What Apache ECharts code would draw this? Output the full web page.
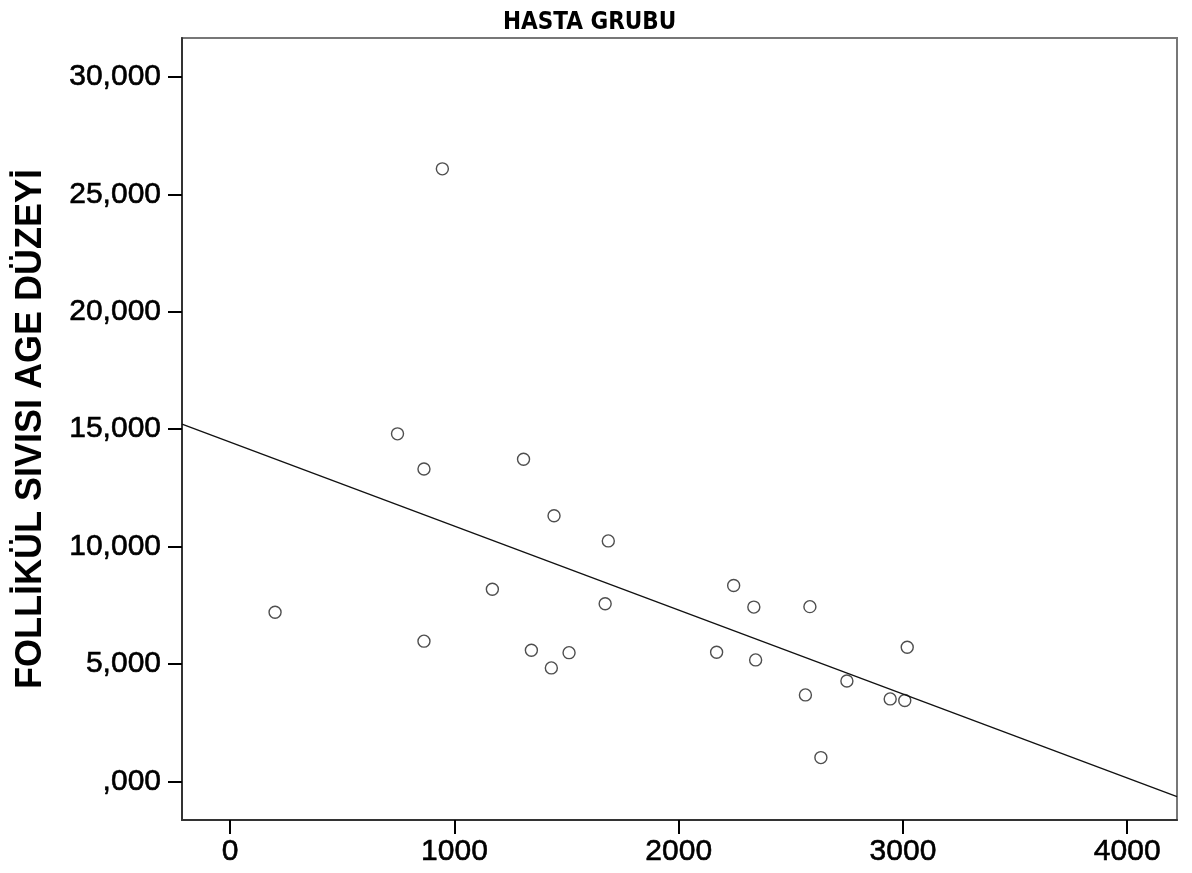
<!DOCTYPE html>
<html lang="tr">
<head>
    <meta charset="UTF-8">
    <title>HASTA GRUBU</title>
    <style>
        html, body { margin: 0; padding: 0; background: #fff; }
        #chart { width: 1192px; height: 873px; }
    </style>
</head>
<body>
<div id="chart"></div>
<script src="https://cdn.jsdelivr.net/npm/echarts@6/dist/echarts.min.js"></script>
<script>
    // x values of the points
    var pointX = [946, 746, 864, 1308, 1444, 1169, 200, 864, 1343, 1432, 1511, 1686,
                  1672, 2245, 2335, 2585, 2169, 2343, 3019, 2750, 2565, 2943, 3008, 2634];
    // AGE levels of the points
    var pointY = [26.09, 14.80, 13.30, 13.72, 11.31, 8.18, 7.20, 5.97, 5.58, 4.83, 5.48, 10.24,
                  7.56, 8.34, 7.42, 7.44, 5.50, 5.17, 5.71, 4.27, 3.68, 3.51, 3.44, 1.01];
    // fit line, where it meets the frame
    var fitX = [-215, 4222];
    var fitY = [15.213, -0.656];

    var xTicks = [0, 1000, 2000, 3000, 4000];
    var yTicks = [0, 5, 10, 15, 20, 25, 30];

    var scatterData = pointX.map(function (x, i) { return [x, pointY[i]]; });
    var fitData = fitX.map(function (x, i) { return [x, fitY[i]]; });

    // turkish decimal comma, SPSS drops the leading zero
    function trNum(v) {
        var s = v.toFixed(3).replace('.', ',');
        if (s.indexOf('0,') === 0) s = s.slice(1);
        return s;
    }

    var myChart = echarts.init(document.getElementById('chart'));

    var option = {
        backgroundColor: '#fff',
        animation: false,
        title: {
            text: 'HASTA GRUBU',
            left: 498,
            top: 6,
            textStyle: {
                fontFamily: 'DejaVu Sans Condensed',
                fontWeight: 'bold',
                fontSize: 24,
                color: '#000'
            }
        },
        grid: {
            left: 182,
            right: 15,
            top: 38,
            bottom: 53,
            show: true,
            borderColor: '#777',
            borderWidth: 2,
            backgroundColor: '#fff'
        },
        xAxis: {
            type: 'value',
            min: -215,
            max: 4222,
            splitLine: { show: false },
            axisLine: { onZero: false, lineStyle: { color: '#333', width: 2 } },
            axisTick: { customValues: xTicks, length: 14, lineStyle: { color: '#000', width: 2 } },
            axisLabel: {
                customValues: xTicks,
                margin: 17,
                fontFamily: 'Liberation Sans',
                fontSize: 30,
                color: '#000',
                textBorderColor: '#000',
                textBorderWidth: 0.6,
                formatter: function (v) { return String(v); }
            }
        },
        yAxis: {
            type: 'value',
            min: -1.649,
            max: 31.663,
            name: 'FOLLİKÜL SIVISI AGE DÜZEYİ',
            nameLocation: 'middle',
            nameGap: 133,
            nameTextStyle: {
                fontFamily: 'Liberation Sans',
                fontWeight: 'bold',
                fontSize: 36,
                color: '#000'
            },
            splitLine: { show: false },
            axisLine: { onZero: false, lineStyle: { color: '#333', width: 2 } },
            axisTick: { customValues: yTicks, length: 14, lineStyle: { color: '#000', width: 2 } },
            axisLabel: {
                customValues: yTicks,
                margin: 21,
                fontFamily: 'Liberation Sans',
                fontSize: 30,
                color: '#000',
                textBorderColor: '#000',
                textBorderWidth: 0.6,
                formatter: function (v) { return trNum(v); }
            }
        },
        series: [
            {
                type: 'line',
                data: fitData,
                symbol: 'none',
                lineStyle: { color: '#111', width: 1.3 },
                silent: true
            },
            {
                type: 'scatter',
                data: scatterData,
                symbol: 'circle',
                symbolSize: 12,
                itemStyle: { color: '#fff', borderColor: '#222', borderWidth: 1.4 }
            }
        ]
    };
    myChart.setOption(option);
</script>
</body>
</html>
